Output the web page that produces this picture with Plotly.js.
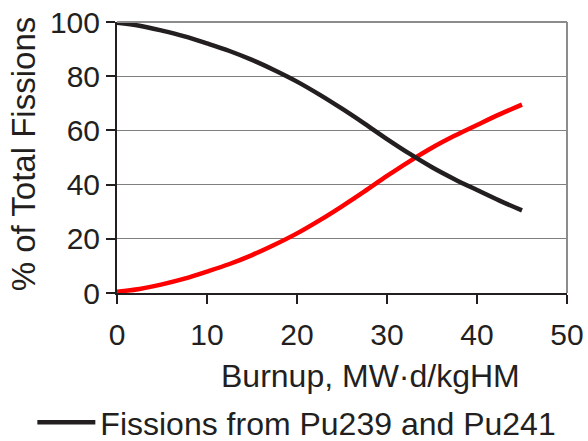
<!DOCTYPE html>
<html>
<head>
<meta charset="utf-8">
<script src="https://cdn.plot.ly/plotly-3.0.1.min.js"></script>
<style>
  html, body { margin: 0; padding: 0; background: #ffffff; }
  #chart { width: 588px; height: 441px; }
</style>
</head>
<body>
<div id="chart"></div>
<script>
// Burnup (MW·d/kgHM)
const burnup = [0, 2.5, 5, 7.5, 10, 12.5, 15, 17.5, 20, 22.5, 25, 27.5, 30, 32.5, 35, 37.5, 40, 42.5, 45];
// % of total fissions from Pu239 and Pu241 (black)
const puFissions = [99.7, 98.6, 96.8, 94.7, 92.1, 89.3, 86.0, 82.2, 78.0, 73.2, 68.0, 62.5, 56.8, 51.4, 46.4, 42.0, 38.0, 34.1, 30.5];
// % of total fissions from the other series (red)
const otherFissions = [0.5, 1.5, 3.2, 5.3, 7.9, 10.7, 14.0, 17.8, 22.0, 26.8, 32.0, 37.5, 43.2, 48.6, 53.6, 58.0, 62.0, 65.9, 69.5];
const xTickVals = [0, 10, 20, 30, 40, 50];
const yTickVals = [0, 20, 40, 60, 80, 100];
const seriesName = "Fissions from Pu239 and Pu241";
const xTitle = "Burnup, MW·d/kgHM";
const yTitle = "% of Total Fissions";

const textColor = "#231f20";
const fontFamily = "Liberation Sans, Arial, sans-serif";
const tickSize = 30;
const titleSize = 32;

const traces = [
  {
    x: burnup, y: otherFissions, type: "scatter", mode: "lines",
    line: { color: "#ff0000", width: 4.5, shape: "spline" },
    showlegend: false, name: "Other"
  },
  {
    x: burnup, y: puFissions, type: "scatter", mode: "lines",
    line: { color: "#231f20", width: 4.5, shape: "spline" },
    name: seriesName, showlegend: true
  }
];

const layout = {
  width: 588, height: 441,
  margin: { l: 117, r: 21, t: 22, b: 148, pad: 0, autoexpand: false },
  paper_bgcolor: "#ffffff", plot_bgcolor: "#ffffff",
  font: { family: fontFamily, color: textColor, size: titleSize },
  xaxis: {
    range: [0, 50], tickvals: xTickVals, ticktext: xTickVals.map(String),
    showgrid: false, zeroline: false,
    showline: true, linecolor: textColor, linewidth: 2,
    ticks: "outside", ticklen: 9, tickwidth: 2, tickcolor: textColor,
    ticklabelstandoff: 5,
    tickfont: { size: tickSize, color: textColor, family: fontFamily },
    fixedrange: true
  },
  yaxis: {
    range: [0, 100], tickvals: yTickVals, ticktext: yTickVals.map(String),
    showgrid: true, gridcolor: "#7f7f7f", gridwidth: 1, zeroline: false,
    showline: true, linecolor: textColor, linewidth: 2,
    ticks: "outside", ticklen: 9, tickwidth: 2, tickcolor: textColor,
    tickfont: { size: tickSize, color: textColor, family: fontFamily },
    fixedrange: true
  },
  shapes: [
    { type: "line", xref: "paper", yref: "paper", x0: 0, x1: 1, y0: 1, y1: 1,
      line: { color: "#8c8c8c", width: 2 } },
    { type: "line", xref: "paper", yref: "paper", x0: 1, x1: 1, y0: 0, y1: 1,
      line: { color: "#8c8c8c", width: 2 } }
  ],
  annotations: [
    { text: xTitle, xref: "paper", yref: "paper", x: 0.564, y: -0.306,
      xanchor: "center", yanchor: "middle", showarrow: false,
      font: { size: titleSize, color: textColor, family: fontFamily } },
    { text: yTitle, xref: "paper", yref: "paper", x: -0.206, y: 0.513, textangle: -90,
      xanchor: "center", yanchor: "middle", showarrow: false,
      font: { size: 33, color: textColor, family: fontFamily } }
  ],
  showlegend: true,
  legend: {
    orientation: "h", xref: "container", yref: "container",
    x: 0.055, xanchor: "left", y: 0.042, yanchor: "middle",
    itemwidth: 58,
    font: { size: titleSize, color: textColor, family: fontFamily },
    bgcolor: "rgba(0,0,0,0)", borderwidth: 0
  }
};

Plotly.newPlot("chart", traces, layout, { displayModeBar: false, staticPlot: true });
</script>
</body>
</html>
